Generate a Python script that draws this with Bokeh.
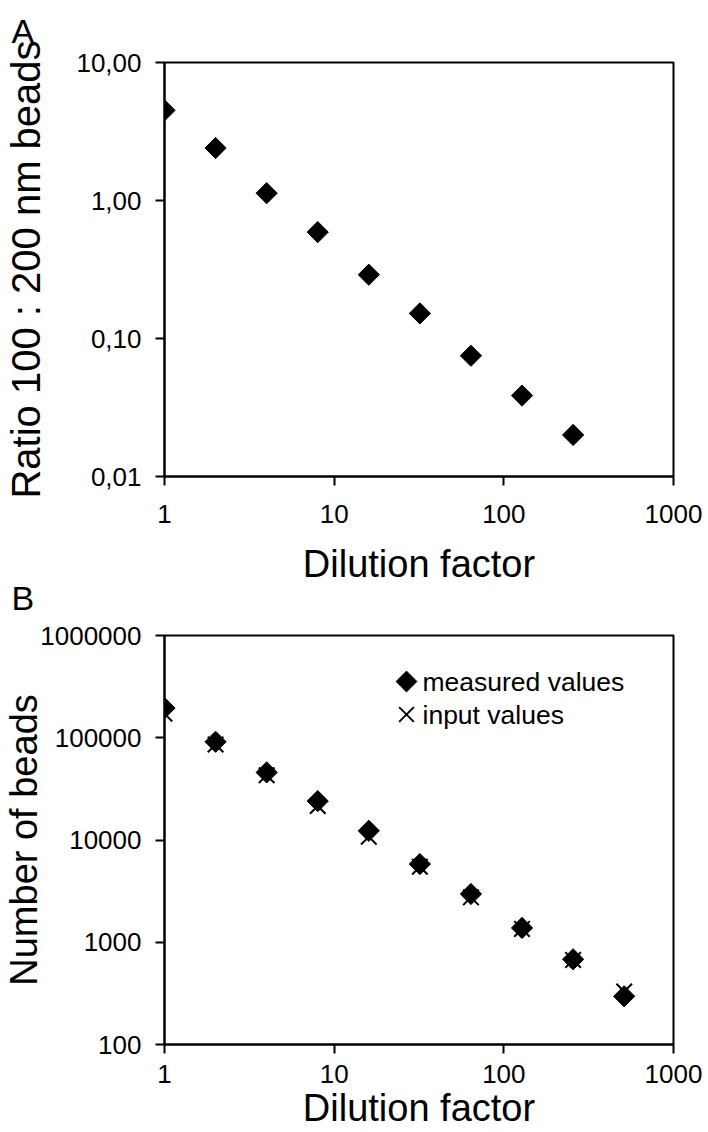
import math
from bokeh.plotting import figure
from bokeh.layouts import column
from bokeh.models import (Range1d, FixedTicker, CustomJSTickFormatter, Label,
                          Legend, LegendItem, Title)
from bokeh.embed import file_html
from bokeh.resources import INLINE

# ---------------- data ----------------
dilution_a = [1, 2, 4, 8, 16, 32, 64, 128, 256]
ratio_a = [4.5, 2.4, 1.13, 0.59, 0.29, 0.152, 0.075, 0.0386, 0.020]

dilution_b = [1, 2, 4, 8, 16, 32, 64, 128, 256, 512]
measured_b = [195000, 91400, 45800, 24000, 12300, 5820, 2965, 1380, 681, 296]
input_b = [172000, 86000, 43000, 21500, 10750, 5480, 2750, 1350, 672, 330]

x_ticks = [1, 10, 100, 1000]
x_labels = ["1", "10", "100", "1000"]
ya_ticks = [0.01, 0.1, 1, 10]
ya_labels = ["0,01", "0,10", "1,00", "10,00"]
yb_ticks = [100, 1000, 10000, 100000, 1000000]
yb_labels = ["100", "1000", "10000", "100000", "1000000"]
legend_labels = ["measured values", "input values"]

FONT = "Liberation Sans"
TICK_FS = "26px"

try:
    Label(x=0, y=0, x_units="canvas", y_units="canvas", text="t")
    UNITS = "canvas"
except Exception:
    UNITS = "screen"


def fmt(ticks, labels):
    return CustomJSTickFormatter(args=dict(t=ticks, l=labels), code="""
        let best = 0, d = 1e300;
        for (let i = 0; i < t.length; i++) {
            const e = Math.abs(Math.log10(tick) - Math.log10(t[i]));
            if (e < d) { d = e; best = i; }
        }
        return l[best];
    """)


def style_axis(ax, ticks, labels, standoff, label, label_size, label_standoff):
    ax.ticker = FixedTicker(ticks=ticks, minor_ticks=[])
    ax.formatter = fmt(ticks, labels)
    ax.axis_line_width = 2
    ax.axis_line_color = "black"
    ax.major_tick_line_width = 2
    ax.major_tick_line_color = "black"
    ax.major_tick_out = 9
    ax.major_tick_in = 0
    ax.minor_tick_out = 0
    ax.minor_tick_in = 0
    ax.major_label_text_font = FONT
    ax.major_label_text_font_size = TICK_FS
    ax.major_label_text_color = "black"
    ax.major_label_standoff = standoff
    ax.axis_label = label
    ax.axis_label_text_font = FONT
    ax.axis_label_text_font_size = label_size
    ax.axis_label_text_font_style = "normal"
    ax.axis_label_text_color = "black"
    ax.axis_label_standoff = label_standoff


def style_letter(t, standoff):
    t.align = "left"
    t.offset = -153
    t.vertical_align = "top"
    t.standoff = standoff
    t.text_font = FONT
    t.text_font_size = "34px"
    t.text_font_style = "normal"
    t.text_color = "black"


def make_fig(h, top, bottom, yrange):
    p = figure(width=705, height=h, x_axis_type="log", y_axis_type="log",
               x_range=Range1d(1, 1000), y_range=yrange, title=None,
               output_backend="svg", toolbar_location=None,
               min_border_left=161, min_border_right=32,
               min_border_top=top, min_border_bottom=bottom)
    p.xgrid.visible = False
    p.ygrid.visible = False
    p.outline_line_color = "black"
    p.outline_line_width = 2
    p.outline_line_alpha = 1
    p.background_fill_color = "white"
    p.border_fill_color = "white"
    return p


# ---------------- panel A ----------------
HA = 616
pa = make_fig(HA, 61, HA - 476, Range1d(0.01, 10))
style_axis(pa.xaxis[0], x_ticks, x_labels, 19, "Dilution factor", "38px", 17)
style_axis(pa.yaxis[0], ya_ticks, ya_labels, 14, "Ratio 100 : 200 nm beads", "40px", 25)
pa.scatter(dilution_a, ratio_a, marker="square", size=15, angle=math.pi / 4,
           fill_color="black", line_color="black")
title_a = Title(text="A")
style_letter(title_a, 22)
pa.add_layout(title_a, "above")
# panel letter of the lower chart sits just under the upper chart's axis title
title_b = Title(text="B")
style_letter(title_b, -18)
pa.add_layout(title_b, "below")

# ---------------- panel B ----------------
HB = 1132 - HA
pb = make_fig(HB, 635 - HA, 88, Range1d(100, 1000000))
style_axis(pb.xaxis[0], x_ticks, x_labels, 11, "Dilution factor", "38px", 1)
style_axis(pb.yaxis[0], yb_ticks, yb_labels, 14, "Number of beads", "38px", -8)
pb.scatter(dilution_b, measured_b, marker="square", size=15, angle=math.pi / 4,
           fill_color="black", line_color="black")
pb.scatter(dilution_b, input_b, marker="x", size=22, line_width=2,
           line_color="black")

# legend-only renderers (hidden) so the legend shows diamond / cross symbols
try:
    leg_meas = pb.ngon(x=dilution_b, y=measured_b, radius=10, n=4,
                       fill_color="black", line_color="black", visible=False)
except Exception:
    leg_meas = pb.scatter(dilution_b, measured_b, marker="diamond",
                          fill_color="black", line_color="black", visible=False)
leg_inp = pb.scatter(dilution_b, input_b, marker="x", line_width=2,
                     line_color="black", visible=False)

BOX = 52
FRAME_BOTTOM_B = 1044 - HA      # frame bottom in B canvas
GX = 403 - 161                  # glyph centre, frame-relative x
ROW_Y = [681 - HA, 714 - HA]    # row centres in B canvas


def glyph_legend(renderer, cy):
    return Legend(items=[LegendItem(label=" ", renderers=[renderer])],
                  location=(GX - BOX // 2, FRAME_BOTTOM_B - (cy + BOX // 2)),
                  border_line_color=None, background_fill_alpha=0,
                  inactive_fill_alpha=0, padding=0, margin=0, spacing=0,
                  glyph_width=BOX, glyph_height=BOX, label_height=BOX,
                  label_standoff=0, label_text_font_size="1px")


pb.add_layout(glyph_legend(leg_meas, ROW_Y[0]))
pb.add_layout(glyph_legend(leg_inp, ROW_Y[1]))
for txt, cy in zip(legend_labels, ROW_Y):
    pb.add_layout(Label(x=422, y=cy, x_units=UNITS, y_units=UNITS, text=txt,
                        text_font=FONT, text_font_size="26.5px",
                        text_color="black", text_align="left",
                        text_baseline="middle"))

layout = column(pa, pb, spacing=0)
open("out.html", "w").write(file_html(layout, INLINE))
